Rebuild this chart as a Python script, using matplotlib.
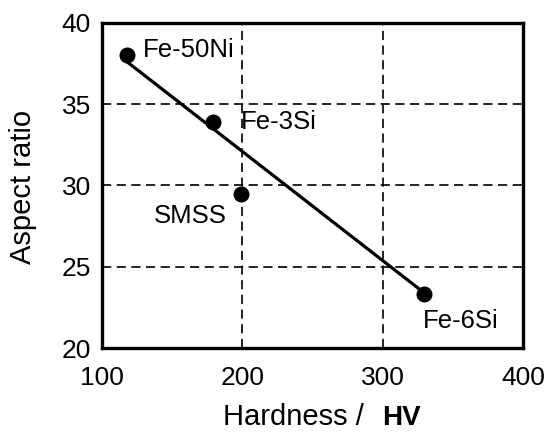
import matplotlib
matplotlib.use("Agg")
import matplotlib.pyplot as plt

plt.rcParams['font.family'] = ['Liberation Sans', 'DejaVu Sans']

# data
names = ["Fe-50Ni", "Fe-3Si", "SMSS", "Fe-6Si"]
hardness = [118, 179, 199, 329.5]
aspect = [38.0, 33.9, 29.5, 23.3]
fit_x = [118, 329.5]
fit_y = [37.6, 23.4]

fig = plt.figure(figsize=(5.5, 4.38), dpi=100)
ax = fig.add_axes([102/550, 90/438, 421/550, 325/438])

ax.plot(fit_x, fit_y, color="black", lw=2.3, zorder=3)
ax.plot(hardness, aspect, "o", color="black", ms=10.5, zorder=4)

# label offsets in points
offs = [(11, 4), (20, 0), (-63, -16), (-1, -19)]
for n, x, y, o in zip(names, hardness, aspect, offs):
    ax.annotate(n, (x, y), xytext=o, textcoords="offset points",
                fontsize=18.5, va="center", ha="left")

ax.set_xlim(100, 400)
ax.set_ylim(20, 40)
ax.set_xticks([100, 200, 300, 400])
ax.set_yticks([20, 25, 30, 35, 40])
ax.tick_params(length=0, labelsize=19)
ax.tick_params(axis="x", pad=13)
ax.tick_params(axis="y", pad=8)
ax.grid(True, color="black", ls=(0, (5.5, 3.3)), lw=1.2)
for s in ax.spines.values():
    s.set_linewidth(2.4)

fig.text(23/550, 1 - 187/438, "Aspect ratio", fontsize=21, rotation=90,
         ha="center", va="center")
fig.text(223/550, 13/438, "Hardness /", fontsize=21, ha="left", va="baseline")
fig.text(382/550, 13/438, "HV", fontsize=20, fontweight="bold",
         ha="left", va="baseline")

fig.savefig("out.png", dpi=100)
